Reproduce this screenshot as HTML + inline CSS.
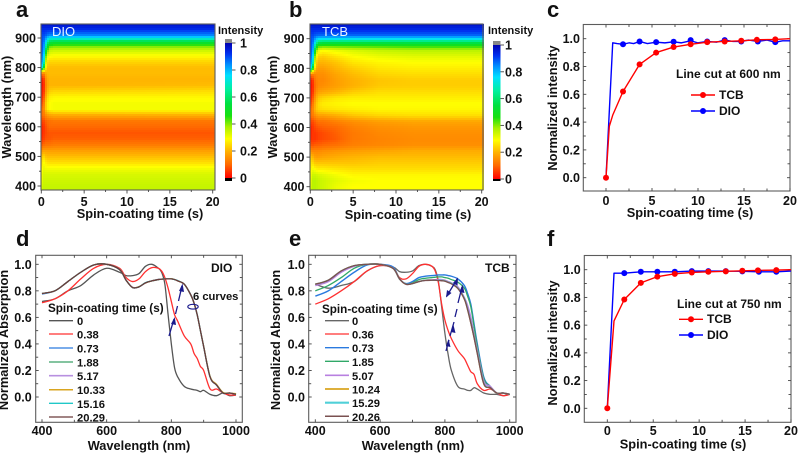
<!DOCTYPE html>
<html>
<head>
<meta charset="utf-8">
<title>Spin-coating absorption figure</title>
<style>
html,body{margin:0;padding:0;background:#fff;}
svg{display:block;font-family:"Liberation Sans",Arial,sans-serif;font-weight:bold;fill:#111;filter:blur(0.35px);}
.t{font-size:12.5px;}
.a{font-size:12.8px;}
.l{font-size:22px;}
.s{font-size:11px;}
.g{font-size:11.2px;}
.h{font-size:11.7px;}
.k{font-size:12px;}
</style>
</head>
<body>
<svg id="fig" xmlns="http://www.w3.org/2000/svg" width="798" height="455" viewBox="0 0 798 455">
<rect x="0" y="0" width="798" height="455" fill="#fff"/>
<g id="layer"></g>

<text class="l" x="16" y="17">a</text>
<text class="l" x="289" y="17">b</text>
<text class="l" x="547" y="17">c</text>
<text class="l" x="16" y="246">d</text>
<text class="l" x="289" y="246">e</text>
<text class="l" x="547" y="246">f</text>

<text class="a" x="140" y="218" text-anchor="middle">Spin-coating time (s)</text>
<text class="a" transform="translate(11,107) rotate(-90)" text-anchor="middle">Wavelength (nm)</text>
<text x="52" y="36" font-size="13" font-weight="normal" style="fill:#e8f4ff">DIO</text>
<text class="s" x="218" y="34">Intensity</text>

<text class="a" x="408" y="219" text-anchor="middle">Spin-coating time (s)</text>
<text class="a" transform="translate(277,107) rotate(-90)" text-anchor="middle">Wavelength (nm)</text>
<text x="322" y="36" font-size="13" font-weight="normal" style="fill:#e8f4ff">TCB</text>
<text class="s" x="488" y="34">Intensity</text>

<text class="a" x="690" y="217" text-anchor="middle">Spin-coating time (s)</text>
<text class="a" transform="translate(557,108) rotate(-90)" text-anchor="middle">Normalized intensity</text>
<text class="k" x="676" y="78">Line cut at 600 nm</text>
<g>
<line x1="691" x2="715" y1="95" y2="95" stroke="#f00" stroke-width="1.4"/>
<circle cx="703" cy="95" r="3" fill="#f00"/>
<text class="k" x="719" y="99">TCB</text>
<line x1="691" x2="715" y1="111" y2="111" stroke="#00f" stroke-width="1.4"/>
<circle cx="703" cy="111" r="3" fill="#00f"/>
<text class="k" x="719" y="115">DIO</text>
</g>

<text class="a" x="139" y="450" text-anchor="middle">Wavelength (nm)</text>
<text class="a" transform="translate(8,340) rotate(-90)" text-anchor="middle">Normalized Absorption</text>
<text class="k" x="211" y="272">DIO</text>
<text class="g" x="193" y="300">6 curves</text>
<ellipse cx="193" cy="306.7" rx="5.2" ry="2.4" fill="none" stroke="#1a1a8c" stroke-width="1.1"/>
<g>
<text class="h" x="48" y="312">Spin-coating time (s)</text>
<line x1="49" x2="73" y1="320.7" y2="320.7" stroke="#555" stroke-width="1.3"/>
<text class="g" x="77" y="325">0</text>
<line x1="49" x2="73" y1="334" y2="334" stroke="#ff3030" stroke-width="1.3"/>
<text class="g" x="77" y="338.5">0.38</text>
<line x1="49" x2="73" y1="348" y2="348" stroke="#2a7adf" stroke-width="1.3"/>
<text class="g" x="77" y="352.5">0.73</text>
<line x1="49" x2="73" y1="362" y2="362" stroke="#5cb080" stroke-width="1.6"/>
<text class="g" x="77" y="366.5">1.88</text>
<line x1="49" x2="73" y1="375.7" y2="375.7" stroke="#b890e0" stroke-width="1.6"/>
<text class="g" x="77" y="380">5.17</text>
<line x1="49" x2="73" y1="389.7" y2="389.7" stroke="#d9a520" stroke-width="1.5"/>
<text class="g" x="77" y="394">10.33</text>
<line x1="49" x2="73" y1="403.3" y2="403.3" stroke="#20c8c8" stroke-width="1.3"/>
<text class="g" x="77" y="408">15.16</text>
<line x1="49" x2="73" y1="417" y2="417" stroke="#6b3a3a" stroke-width="1.3"/>
<text class="g" x="77" y="421.5">20.29</text>
</g>

<text class="a" x="413" y="450" text-anchor="middle">Wavelength (nm)</text>
<text class="a" transform="translate(280,340) rotate(-90)" text-anchor="middle">Normalized Absorption</text>
<text class="k" x="485" y="272">TCB</text>
<g>
<text class="h" x="322" y="313">Spin-coating time (s)</text>
<line x1="325" x2="349" y1="320.7" y2="320.7" stroke="#666" stroke-width="1.4"/>
<text class="g" x="352" y="325">0</text>
<line x1="325" x2="349" y1="334" y2="334" stroke="#ff3030" stroke-width="1.3"/>
<text class="g" x="352" y="338.5">0.36</text>
<line x1="325" x2="349" y1="347.7" y2="347.7" stroke="#2a7adf" stroke-width="1.3"/>
<text class="g" x="352" y="352">0.73</text>
<line x1="325" x2="349" y1="361.3" y2="361.3" stroke="#30a868" stroke-width="1.3"/>
<text class="g" x="352" y="366">1.85</text>
<line x1="325" x2="349" y1="375.3" y2="375.3" stroke="#b880e0" stroke-width="1.6"/>
<text class="g" x="352" y="380">5.07</text>
<line x1="325" x2="349" y1="389" y2="389" stroke="#d9a520" stroke-width="1.7"/>
<text class="g" x="352" y="393.5">10.24</text>
<line x1="325" x2="349" y1="402.7" y2="402.7" stroke="#50d0d8" stroke-width="2.2"/>
<text class="g" x="352" y="407">15.29</text>
<line x1="325" x2="349" y1="416.3" y2="416.3" stroke="#7a5050" stroke-width="1.5"/>
<text class="g" x="352" y="421">20.26</text>
</g>

<text class="a" x="683" y="448.5" text-anchor="middle">Spin-coating time (s)</text>
<text class="a" transform="translate(557,343) rotate(-90)" text-anchor="middle">Normalized intensity</text>
<text class="k" x="677" y="308">Line cut at 750 nm</text>
<g>
<line x1="679" x2="703" y1="319.3" y2="319.3" stroke="#f00" stroke-width="1.4"/>
<circle cx="691" cy="319.3" r="3" fill="#f00"/>
<text class="k" x="707" y="323">TCB</text>
<line x1="679" x2="703" y1="335" y2="335" stroke="#00f" stroke-width="1.4"/>
<circle cx="691" cy="335" r="3" fill="#00f"/>
<text class="k" x="707" y="339">DIO</text>
</g>

<g id="annotations" fill="#1a1a8c" stroke="none">
<g stroke="#1a1a8c" stroke-width="1.3" fill="none">
<line x1="169" y1="336" x2="174" y2="319"/>
<line x1="175.5" y1="314" x2="177.5" y2="306"/>
<line x1="178.5" y1="301" x2="182" y2="286"/>
<line x1="446" y1="351" x2="449" y2="340"/>
<line x1="450" y1="336" x2="454" y2="322"/>
<line x1="455" y1="317" x2="457" y2="309"/>
<line x1="458" y1="303" x2="462" y2="287"/>
<line x1="446.5" y1="296.5" x2="457.5" y2="278.5"/>
</g>
<polygon points="174.7,317 171,324 176,325"/>
<polygon points="182.5,283.5 179,291 184,292"/>
<polygon points="448.5,339 446,346 450.5,347"/>
<polygon points="453.5,325 451,332 455.5,333"/>
<polygon points="462.5,284.5 459.5,292 464.5,293"/>
<polygon points="446,297.5 447,290 451.5,293"/>
<polygon points="458,277.5 453,283 457.5,285.5"/>
</g>
</svg>

<script>
// ---------- Heatmap data ----------
const heatWavelengths = [950,930,910,900,890,880,870,860,840,820,800,790,780,760,740,720,700,680,660,640,620,600,580,560,540,520,500,480,460,440,420,400,385];
const aTimes = [0,0.3,0.6,0.9,1.5,20];
const aIntensity = [
[.97,.97,.97,.97,.97,.97],
[.93,.93,.93,.93,.93,.93],
[.9,.9,.88,.85,.85,.85],
[.9,.88,.82,.75,.75,.75],
[.9,.87,.76,.6,.58,.58],
[.9,.85,.66,.5,.48,.48],
[.9,.84,.6,.42,.4,.4],
[.9,.82,.5,.36,.35,.35],
[.88,.78,.34,.3,.29,.29],
[.86,.72,.27,.24,.24,.24],
[.8,.5,.22,.21,.21,.21],
[.4,.3,.21,.21,.21,.21],
[.12,.13,.2,.21,.21,.21],
[.02,.05,.17,.2,.2,.2],
[.01,.04,.16,.2,.2,.21],
[.02,.05,.18,.23,.24,.25],
[.03,.08,.22,.27,.28,.28],
[.06,.12,.25,.29,.3,.3],
[.1,.14,.25,.29,.3,.3],
[.1,.12,.16,.18,.19,.2],
[.06,.07,.1,.11,.12,.12],
[.03,.05,.08,.1,.1,.1],
[.03,.05,.07,.08,.08,.08],
[.04,.06,.08,.08,.09,.09],
[.08,.1,.11,.11,.12,.12],
[.15,.17,.17,.17,.17,.17],
[.22,.24,.21,.21,.21,.21],
[.26,.29,.26,.25,.25,.25],
[.28,.31,.3,.3,.3,.3],
[.3,.33,.33,.33,.33,.33],
[.31,.34,.34,.34,.34,.34],
[.33,.35,.35,.35,.35,.35],
[.34,.35,.35,.35,.35,.35]
];
const bTimes = [0,0.3,0.6,0.9,1.5,3,5,8,12,20];
const bIntensity = [
[.97,.97,.97,.97,.97,.97,.97,.97,.97,.97],
[.93,.93,.93,.93,.93,.93,.93,.93,.93,.93],
[.9,.9,.88,.87,.87,.87,.87,.87,.87,.87],
[.9,.88,.82,.77,.76,.76,.76,.76,.76,.76],
[.9,.87,.76,.62,.6,.6,.6,.6,.6,.6],
[.9,.85,.66,.5,.48,.48,.48,.49,.5,.5],
[.9,.84,.58,.40,.38,.39,.40,.41,.42,.42],
[.9,.82,.46,.31,.29,.31,.33,.35,.36,.36],
[.88,.78,.32,.24,.23,.26,.29,.31,.32,.32],
[.86,.72,.26,.2,.2,.22,.26,.28,.29,.29],
[.8,.5,.2,.17,.17,.2,.23,.26,.27,.27],
[.4,.3,.17,.16,.16,.19,.22,.25,.26,.26],
[.12,.13,.14,.15,.15,.18,.21,.24,.25,.25],
[.02,.05,.12,.14,.14,.17,.195,.22,.23,.23],
[.01,.04,.11,.14,.15,.17,.195,.225,.23,.23],
[.02,.05,.13,.17,.18,.2,.23,.25,.25,.25],
[.03,.08,.17,.22,.24,.26,.27,.27,.27,.27],
[.06,.12,.2,.25,.27,.28,.29,.29,.29,.29],
[.1,.14,.21,.24,.25,.26,.27,.28,.28,.28],
[.1,.12,.15,.17,.17,.19,.22,.24,.25,.25],
[.06,.07,.09,.11,.11,.13,.15,.17,.18,.18],
[.03,.05,.07,.08,.09,.1,.13,.15,.16,.16],
[.03,.05,.05,.06,.07,.09,.12,.14,.15,.15],
[.04,.05,.05,.06,.07,.085,.12,.135,.145,.145],
[.08,.08,.09,.09,.1,.11,.13,.14,.15,.15],
[.15,.14,.14,.14,.15,.16,.17,.18,.19,.19],
[.22,.2,.17,.17,.18,.19,.2,.21,.21,.21],
[.26,.25,.22,.22,.22,.22,.22,.23,.23,.23],
[.28,.3,.28,.27,.27,.26,.25,.25,.25,.25],
[.3,.34,.34,.33,.32,.3,.28,.28,.28,.28],
[.31,.36,.36,.35,.34,.32,.3,.29,.29,.29],
[.33,.36,.36,.35,.34,.31,.29,.29,.29,.29],
[.34,.36,.36,.35,.34,.31,.29,.29,.29,.29]
];
const colorbarTicks = [0,0.2,0.4,0.6,0.8,1];
const colorbarTickLabels = ['0','0.2','0.4','0.6','0.8','1'];
const heatTimeTicks = [0,5,10,15,20];
const heatWaveTicks = [400,500,600,700,800,900];

// ---------- Line cut data ----------
const timeTicks = [0,5,10,15,20];
const intensityTicks = [0,0.2,0.4,0.6,0.8,1];
const intensityTickLabels = ['0.0','0.2','0.4','0.6','0.8','1.0'];
const cTcbT = [0,0.36,0.73,1.85,3.65,5.45,7.35,9.2,11,12.9,14.7,16.4,18.4,20];
const cTcbV = [0,.37,.45,.62,.815,.9,.94,.96,.975,.98,.985,.992,.995,1];
const cTcbMarkT = [0,1.85,3.65,5.45,7.35,9.2,11,12.9,14.7,16.4,18.4];
const cTcbMarkV = [0,.62,.815,.9,.94,.96,.975,.98,.985,.992,.995];
const cDioT = [0,.73,1.2,1.85,2.5,3,3.65,4.5,5.45,6.4,7.35,8.2,9.2,10,11,12,12.9,13.8,14.7,15.5,16.5,17.5,18.4,19.2,20];
const cDioV = [0,.97,.965,.96,.97,.965,.98,.965,.975,.97,.978,.97,.985,.97,.98,.975,.99,.98,.98,.99,.98,.99,.975,.985,.985];
const cDioMarkT = [1.85,3.65,5.45,7.35,9.2,11,12.9,14.7,16.5,18.4];
const cDioMarkV = [.96,.98,.975,.978,.99,.98,.99,.98,.98,.975];
const fTcbT = [0,.73,1.85,3.65,5.45,7.35,9.2,11,12.9,14.7,16.4,18.4,20];
const fTcbV = [0,.63,.785,.905,.95,.97,.98,.985,.988,.992,.995,.997,1];
const fTcbMarkT = [0,1.85,3.65,5.45,7.35,9.2,11,12.9,14.7,16.4,18.4];
const fTcbMarkV = [0,.785,.905,.95,.97,.98,.985,.988,.992,.995,.997];
const fDioT = [0,.73,1.85,3.65,5.45,7.35,9.2,11,12.9,14.7,16.5,18.4,20];
const fDioV = [0,.975,.975,.985,.985,.985,.99,.99,.99,.988,.985,.985,.99];
const fDioMarkT = [1.85,3.65,5.45,7.35,9.2,11,12.9,14.7,16.5,18.4];
const fDioMarkV = [.975,.985,.985,.985,.99,.99,.99,.988,.985,.985];

// ---------- Spectra data ----------
const specWave = [400,440,480,520,560,600,640,660,680,700,720,740,760,770,780,790,800,810,820,840,860,870,880,890,900,920,940,960,980,1000];
const specWaveTicks = [400,600,800,1000];
const absTicks = [0,0.2,0.4,0.6,0.8,1];
const absTickLabels = ['0.0','0.2','0.4','0.6','0.8','1.0'];
const dS0 = [.72,.74,.80,.84,.92,.97,.94,.915,.915,.93,.985,1,.97,.94,.85,.62,.4,.22,.15,.08,.06,.055,.05,.04,.05,.02,.01,.03,.01,.015];
const dS038 = [.71,.74,.80,.89,.97,1,.97,.90,.87,.89,.945,.975,.97,.95,.90,.82,.72,.62,.57,.46,.40,.33,.29,.23,.20,.06,.06,.03,.015,.015];
const dS073 = [.775,.80,.87,.94,.995,1,.96,.88,.825,.83,.86,.875,.885,.888,.89,.89,.89,.885,.875,.85,.772,.71,.62,.50,.38,.15,.09,.03,.03,.02];
const dS188 = [.78,.80,.87,.94,.995,1,.96,.882,.825,.83,.86,.875,.885,.888,.89,.89,.89,.885,.875,.85,.77,.71,.622,.50,.38,.15,.09,.03,.03,.02];
const dS517 = [.78,.80,.87,.94,.995,1,.96,.88,.827,.83,.86,.875,.887,.888,.89,.89,.89,.885,.875,.85,.77,.71,.62,.502,.38,.15,.09,.03,.03,.02];
const dS1033 = [.78,.80,.87,.94,.995,1,.96,.88,.825,.832,.86,.875,.885,.888,.89,.89,.892,.885,.875,.85,.77,.71,.62,.50,.382,.155,.095,.035,.03,.025];
const dS1516 = [.78,.80,.87,.94,.995,1,.96,.88,.825,.83,.862,.875,.885,.888,.89,.89,.89,.885,.877,.85,.77,.71,.62,.50,.38,.15,.09,.03,.03,.02];
const dS2029 = [.78,.80,.87,.94,.995,1,.96,.88,.825,.83,.86,.875,.885,.888,.89,.89,.89,.885,.875,.85,.77,.71,.62,.50,.38,.15,.09,.03,.03,.02];
const eS0 = [.85,.82,.84,.87,.95,.99,.98,.945,.94,.95,.99,1,.985,.96,.87,.68,.48,.32,.2,.08,.06,.05,.05,.07,.06,.03,.02,.02,.01,.02];
const eS036 = [.70,.74,.80,.87,.95,.99,.97,.90,.89,.93,.985,1,.985,.95,.86,.70,.58,.5,.44,.35,.29,.24,.19,.17,.1,.05,.06,.03,.01,.02];
const eS073 = [.76,.80,.87,.94,.995,1,.98,.89,.855,.87,.90,.91,.915,.917,.92,.92,.92,.915,.91,.89,.84,.78,.70,.55,.4,.15,.08,.03,.03,.02];
const eS185 = [.80,.84,.90,.97,1,1,.97,.89,.85,.86,.885,.895,.90,.903,.905,.905,.90,.895,.885,.865,.82,.76,.68,.53,.38,.14,.08,.03,.03,.02];
const eS507 = [.84,.87,.94,.985,1,1,.97,.89,.85,.855,.87,.88,.882,.884,.885,.885,.88,.87,.86,.83,.75,.69,.60,.47,.35,.12,.08,.03,.03,.02];
const eS1024 = [.85,.88,.95,.99,1,1,.97,.89,.85,.855,.87,.88,.88,.88,.88,.88,.875,.865,.855,.82,.74,.66,.56,.45,.33,.10,.07,.03,.03,.02];
const eS1529 = [.85,.88,.95,.99,1,1,.97,.89,.852,.855,.87,.88,.88,.88,.88,.88,.875,.865,.857,.822,.745,.665,.565,.455,.335,.105,.07,.03,.03,.02];
const eS2026 = [.85,.88,.95,.99,1,1,.97,.89,.85,.855,.87,.878,.88,.88,.878,.876,.873,.863,.853,.818,.738,.658,.558,.448,.328,.10,.07,.03,.03,.02];

// ---------- Helpers ----------
const NS = 'http://www.w3.org/2000/svg';
const layer = document.getElementById('layer');
function mk(tag, parent, props) {
  const el = document.createElementNS(NS, tag);
  for (const k in props) el.setAttribute(k, props[k]);
  parent.appendChild(el);
  return el;
}
function linear(d0, d1, r0, r1) {
  return v => r0 + (v - d0) * (r1 - r0) / (d1 - d0);
}
function hexToRgb(h) {
  return [parseInt(h.slice(1,3),16), parseInt(h.slice(3,5),16), parseInt(h.slice(5,7),16)];
}
const cmapPos = [0,.1,.2,.29,.38,.46,.55,.66,.76,.84,.92,1];
const cmapCol = ['#ff0000','#ff6a00','#ffb400','#ffff00','#a8f000','#18e010','#00e040','#00f0a0','#00e0ff','#0090ff','#0030f0','#0000b0'];
function colormap(v) {
  v = Math.max(0, Math.min(1, v));
  let i = 0;
  while (i < cmapPos.length - 2 && v > cmapPos[i+1]) i++;
  const f = (v - cmapPos[i]) / (cmapPos[i+1] - cmapPos[i]);
  const a = hexToRgb(cmapCol[i]), b = hexToRgb(cmapCol[i+1]);
  return 'rgb(' + a.map((c,k) => Math.round(c + (b[k]-c)*f)).join(',') + ')';
}
function bracket(arr, v) {
  let i = 0;
  const asc = arr[arr.length-1] > arr[0];
  while (i < arr.length - 2 && (asc ? v > arr[i+1] : v < arr[i+1])) i++;
  const f = Math.max(0, Math.min(1, (v - arr[i]) / (arr[i+1] - arr[i])));
  return [i, f];
}
function drawHeatmap(g, times, matrix, tx, wy, box) {
  const tInv = linear(tx(0), tx(20), 0, 20);
  const wInv = linear(wy(400), wy(900), 400, 900);
  for (let px = box.x0; px < box.x1; px += 2) {
    for (let py = box.y0; py < box.y1; py += 2) {
      const t = tInv(px + 1), w = wInv(py + 1);
      const [ci, cf] = bracket(times, t);
      const [ri, rf] = bracket(heatWavelengths, w);
      const top = matrix[ri][ci] * (1-cf) + matrix[ri][ci+1] * cf;
      const bot = matrix[ri+1][ci] * (1-cf) + matrix[ri+1][ci+1] * cf;
      const cell = mk('rect', g, {x:px, y:py, width:2, height:2, fill:colormap(top*(1-rf)+bot*rf), 'shape-rendering':'crispEdges'});
      
      
    }
  }
}
function drawFrame(g, box) {
  const r = mk('rect', g, {x:box.x0, y:box.y0, width:box.x1-box.x0, height:box.y1-box.y0, fill:'none', stroke:'#5c5c5c', 'stroke-width':1.1});
  
  
}
function tick(g, x1, y1, x2, y2) {
  const l = mk('line', g, {x1:x1, y1:y1, x2:x2, y2:y2, stroke:'#444', 'stroke-width':0.9});
  
  
}
function tickLabel(g, x, y, str, anchor, cls) {
  const t = mk('text', g, {x:x, y:y, 'text-anchor':anchor, 'class':cls});
  t.textContent = str;
  
  
}
function drawSeries(g, xs, ys, sx, sy, color, width, name) {
  const p = mk('polyline', g, {points:xs.map((x,i)=>sx(x).toFixed(2)+','+sy(ys[i]).toFixed(2)).join(' '), fill:'none', stroke:color, 'stroke-width':width, 'stroke-linejoin':'round'});
  
  
}
function drawSmooth(g, xs, ys, sx, sy, color, width, name) {
  const P = xs.map((x,i) => [sx(x), sy(ys[i])]);
  let d = 'M' + P[0][0].toFixed(2) + ' ' + P[0][1].toFixed(2);
  for (let i = 0; i < P.length - 1; i++) {
    const p0 = P[Math.max(i-1,0)], p1 = P[i], p2 = P[i+1], p3 = P[Math.min(i+2,P.length-1)];
    const c1x = p1[0] + (p2[0]-p0[0])/6, c1y = p1[1] + (p2[1]-p0[1])/6;
    const c2x = p2[0] - (p3[0]-p1[0])/6, c2y = p2[1] - (p3[1]-p1[1])/6;
    d += ' C' + [c1x,c1y,c2x,c2y,p2[0],p2[1]].map(v=>v.toFixed(2)).join(' ');
  }
  const p = mk('path', g, {d:d, fill:'none', stroke:color, 'stroke-width':width, 'stroke-linejoin':'round'});
  
  
}
function drawMarkers(g, xs, ys, sx, sy, color, name) {
  xs.forEach((x,i) => {
    const c = mk('circle', g, {cx:sx(x), cy:sy(ys[i]), r:3, fill:color});
    
    
  });
}
function heatPanel(name, times, matrix, box, tx, wy, opts) {
  const g = mk('g', layer, {});
  
  
  drawHeatmap(g, times, matrix, tx, wy, box);
  drawFrame(g, box);
  heatWaveTicks.forEach(w => {
    tick(g, box.x0-3.5, wy(w), box.x0, wy(w));
    tickLabel(g, opts.yLabelX, wy(w)+4.5, String(w), 'end', 't');
    if (w < 900) tick(g, box.x0-2, wy(w+50), box.x0, wy(w+50));
  });
  heatTimeTicks.forEach(t => {
    tick(g, tx(t), box.y1, tx(t), box.y1+3.5);
    tickLabel(g, tx(t), opts.xLabelY, String(t), 'middle', 't');
    if (t < 20) tick(g, tx(t+2.5), box.y1, tx(t+2.5), box.y1+2);
  });
  const cb = opts.cb;
  const vy = linear(0, 1, cb.y0v, cb.y1v);
  for (let py = cb.top; py < cb.bottom; py += 1) {
    const v = linear(cb.y0v, cb.y1v, 0, 1)(py + 0.5);
    let col = colormap(v);
    if (v > 1) col = '#888888';
    if (v < 0) col = '#000000';
    const s = mk('rect', g, {x:cb.x, y:py, width:cb.w, height:1, fill:col, 'shape-rendering':'crispEdges'});
    
    
  }
  colorbarTicks.forEach((v,i) => {
    tick(g, cb.x+cb.w, vy(v), cb.x+cb.w+3.5, vy(v));
    tickLabel(g, cb.labelX, vy(v)+4.5, colorbarTickLabels[i], 'start', 't');
  });
}
function framedAxes(name, box, sx, sy, xVals, xLabels, yVals, yLabels, opts) {
  const g = mk('g', layer, {});
  
  
  drawFrame(g, box);
  yVals.forEach((v,i) => {
    tick(g, box.x0, sy(v), box.x0+3, sy(v));
    tick(g, box.x1, sy(v), box.x1-3, sy(v));
    tickLabel(g, opts.yLabelX, sy(v)+4.5, yLabels[i], 'end', 't');
    if (i < yVals.length-1) {
      const m = sy(v + (yVals[1]-yVals[0])/2);
      tick(g, box.x0, m, box.x0+2.5, m);
      tick(g, box.x1, m, box.x1-2.5, m);
    }
  });
  xVals.forEach((v,i) => {
    tick(g, sx(v), box.y1, sx(v), box.y1-3);
    tick(g, sx(v), box.y0, sx(v), box.y0+3);
    tickLabel(g, sx(v), opts.xLabelY, xLabels[i], 'middle', 't');
    if (i < xVals.length-1) {
      const m = sx(v + (xVals[1]-xVals[0])/2);
      tick(g, m, box.y1, m, box.y1-2.5);
      tick(g, m, box.y0, m, box.y0+2.5);
    }
  });
  return g;
}

// ---------- Panels a, b ----------
heatPanel('a', aTimes, aIntensity, {x0:41,x1:215,y0:24,y1:190},
  linear(0,20,41.3,212.7), linear(400,900,186,38),
  {yLabelX:36, xLabelY:206, cb:{x:225,w:7,top:39,bottom:181,y0v:178,y1v:43,labelX:240}});
heatPanel('b', bTimes, bIntensity, {x0:310,x1:483,y0:24,y1:190},
  linear(0,20,310.3,481.7), linear(400,900,186.7,38.7),
  {yLabelX:304.5, xLabelY:206, cb:{x:493,w:7.5,top:41,bottom:181,y0v:179,y1v:45,labelX:505}});

// ---------- Panel c ----------
{
  const box = {x0:583.3,x1:790,y0:24.5,y1:191};
  const sx = linear(0,20,606,790), sy = linear(0,1,177.7,38.7);
  const g = framedAxes('c', box, sx, sy, timeTicks, timeTicks.map(String), intensityTicks, intensityTickLabels, {yLabelX:580, xLabelY:205});
  drawSeries(g, cDioT, cDioV, sx, sy, '#0000ff', 1.4, 'series-dio-c');
  drawSeries(g, cTcbT, cTcbV, sx, sy, '#ff0000', 1.4, 'series-tcb-c');
  drawMarkers(g, cDioMarkT, cDioMarkV, sx, sy, '#0000ff', 'point-dio-c');
  drawMarkers(g, cTcbMarkT, cTcbMarkV, sx, sy, '#ff0000', 'point-tcb-c');
}
// ---------- Panel f ----------
{
  const box = {x0:584.3,x1:791,y0:255.5,y1:422.3};
  const sx = linear(0,20,607.3,791), sy = linear(0,1,408.3,269.7);
  const g = framedAxes('f', box, sx, sy, timeTicks, timeTicks.map(String), intensityTicks, intensityTickLabels, {yLabelX:580.7, xLabelY:435});
  drawSeries(g, fDioT, fDioV, sx, sy, '#0000ff', 1.4, 'series-dio-f');
  drawSeries(g, fTcbT, fTcbV, sx, sy, '#ff0000', 1.4, 'series-tcb-f');
  drawMarkers(g, fDioMarkT, fDioMarkV, sx, sy, '#0000ff', 'point-dio-f');
  drawMarkers(g, fTcbMarkT, fTcbMarkV, sx, sy, '#ff0000', 'point-tcb-f');
}
// ---------- Panel d ----------
{
  const box = {x0:35.7,x1:242.3,y0:255.3,y1:422.3};
  const sx = linear(400,1000,42,236), sy = linear(0,1,397,264.3);
  const g = framedAxes('d', box, sx, sy, specWaveTicks, specWaveTicks.map(String), absTicks, absTickLabels, {yLabelX:31.7, xLabelY:435});
  drawSmooth(g, specWave, dS0, sx, sy, '#555555', 1.3, 'series-d-0');
  drawSmooth(g, specWave, dS038, sx, sy, '#ff3030', 1.3, 'series-d-0-38');
  drawSmooth(g, specWave, dS073, sx, sy, '#2a7adf', 1.3, 'series-d-0-73');
  drawSmooth(g, specWave, dS188, sx, sy, '#5cb080', 1.3, 'series-d-1-88');
  drawSmooth(g, specWave, dS517, sx, sy, '#b890e0', 1.3, 'series-d-5-17');
  drawSmooth(g, specWave, dS1033, sx, sy, '#d9a520', 1.3, 'series-d-10-33');
  drawSmooth(g, specWave, dS1516, sx, sy, '#20c8c8', 1.3, 'series-d-15-16');
  drawSmooth(g, specWave, dS2029, sx, sy, '#6b3a3a', 1.3, 'series-d-20-29');
}
// ---------- Panel e ----------
{
  const box = {x0:308.7,x1:516,y0:255.3,y1:422.3};
  const sx = linear(400,1000,315.3,509.7), sy = linear(0,1,397,264.3);
  const g = framedAxes('e', box, sx, sy, specWaveTicks, specWaveTicks.map(String), absTicks, absTickLabels, {yLabelX:305, xLabelY:435});
  drawSmooth(g, specWave, eS0, sx, sy, '#666666', 1.3, 'series-e-0');
  drawSmooth(g, specWave, eS036, sx, sy, '#ff3030', 1.3, 'series-e-0-36');
  drawSmooth(g, specWave, eS073, sx, sy, '#2a7adf', 1.4, 'series-e-0-73');
  drawSmooth(g, specWave, eS185, sx, sy, '#30a868', 1.3, 'series-e-1-85');
  drawSmooth(g, specWave, eS507, sx, sy, '#b880e0', 1.5, 'series-e-5-07');
  drawSmooth(g, specWave, eS1024, sx, sy, '#d9a520', 1.4, 'series-e-10-24');
  drawSmooth(g, specWave, eS1529, sx, sy, '#50d0d8', 1.4, 'series-e-15-29');
  drawSmooth(g, specWave, eS2026, sx, sy, '#7a5050', 1.4, 'series-e-20-26');
}
</script>
</body>
</html>
